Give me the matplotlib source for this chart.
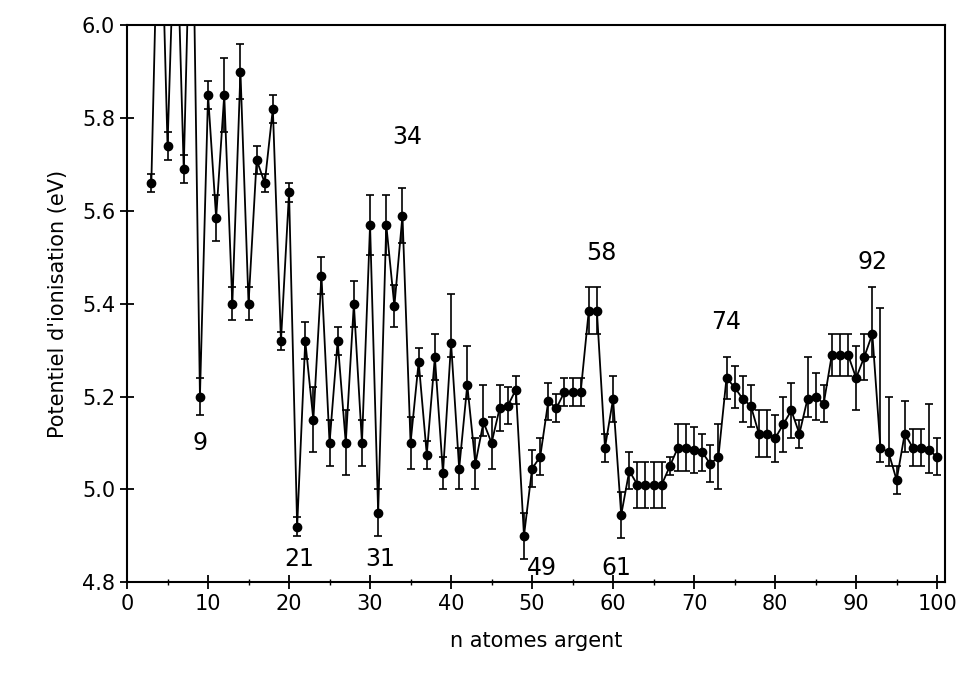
import numpy as np
import matplotlib
matplotlib.use("Agg")
from matplotlib import pyplot as plt
from matplotlib.ticker import MultipleLocator

# cluster size n (silver atoms)
n_atoms = list(range(3, 101))

# ionisation potential (eV); 4, 6, 8 lie above the frame
ip_values = [
    5.66, 6.40, 5.74, 6.30, 5.69, 6.40, 5.20, 5.85, 5.585, 5.85,   # 3-12
    5.40, 5.90, 5.40, 5.71, 5.66, 5.82, 5.32, 5.64, 4.92, 5.32,    # 13-22
    5.15, 5.46, 5.10, 5.32, 5.10, 5.40, 5.10, 5.57, 4.95, 5.57,    # 23-32
    5.395, 5.59, 5.10, 5.275, 5.075, 5.285, 5.035, 5.315, 5.045, 5.225,  # 33-42
    5.055, 5.145, 5.10, 5.175, 5.18, 5.215, 4.90, 5.045, 5.07, 5.19,     # 43-52
    5.175, 5.21, 5.21, 5.21, 5.385, 5.385, 5.09, 5.195, 4.945, 5.04,     # 53-62
    5.01, 5.01, 5.01, 5.01, 5.05, 5.09, 5.09, 5.085, 5.08, 5.055,        # 63-72
    5.07, 5.24, 5.22, 5.195, 5.18, 5.12, 5.12, 5.11, 5.14, 5.17,         # 73-82
    5.12, 5.195, 5.20, 5.185, 5.29, 5.29, 5.29, 5.24, 5.285, 5.335,      # 83-92
    5.09, 5.08, 5.02, 5.12, 5.09, 5.09, 5.085, 5.07,                     # 93-100
]

# error bar lengths below / above each point (eV)
err_low = [
    0.02, 0.0, 0.03, 0.0, 0.03, 0.0, 0.04, 0.03, 0.05, 0.08,
    0.035, 0.06, 0.035, 0.03, 0.02, 0.03, 0.02, 0.02, 0.02, 0.04,
    0.07, 0.04, 0.05, 0.03, 0.07, 0.05, 0.05, 0.065, 0.05, 0.065,
    0.045, 0.06, 0.055, 0.03, 0.03, 0.05, 0.035, 0.03, 0.045, 0.03,
    0.055, 0.03, 0.055, 0.05, 0.04, 0.03, 0.05, 0.04, 0.04, 0.04,
    0.03, 0.03, 0.03, 0.03, 0.05, 0.05, 0.03, 0.05, 0.05, 0.04,
    0.05, 0.05, 0.05, 0.05, 0.02, 0.05, 0.05, 0.05, 0.04, 0.04,
    0.07, 0.045, 0.045, 0.05, 0.045, 0.05, 0.05, 0.05, 0.06, 0.06,
    0.03, 0.04, 0.05, 0.04, 0.045, 0.045, 0.045, 0.07, 0.05, 0.05,
    0.03, 0.03, 0.03, 0.04, 0.04, 0.04, 0.05, 0.04,
]
err_high = [
    0.02, 0.0, 0.03, 0.0, 0.03, 0.0, 0.04, 0.03, 0.05, 0.08,
    0.035, 0.06, 0.035, 0.03, 0.02, 0.03, 0.02, 0.02, 0.02, 0.04,
    0.07, 0.04, 0.05, 0.03, 0.07, 0.05, 0.05, 0.065, 0.05, 0.065,
    0.045, 0.06, 0.055, 0.03, 0.03, 0.05, 0.035, 0.105, 0.045, 0.085,
    0.055, 0.08, 0.055, 0.05, 0.04, 0.03, 0.05, 0.04, 0.04, 0.04,
    0.03, 0.03, 0.03, 0.03, 0.05, 0.05, 0.03, 0.05, 0.05, 0.04,
    0.05, 0.05, 0.05, 0.05, 0.02, 0.05, 0.05, 0.05, 0.04, 0.04,
    0.07, 0.045, 0.045, 0.05, 0.045, 0.05, 0.05, 0.05, 0.06, 0.06,
    0.03, 0.09, 0.05, 0.04, 0.045, 0.045, 0.045, 0.07, 0.05, 0.10,
    0.30, 0.12, 0.03, 0.07, 0.04, 0.04, 0.10, 0.04,
]

# magic numbers written on the plot: (text, x, y)
labels = [("9", 9, 5.10), ("21", 21.3, 4.85), ("31", 31.3, 4.85),
          ("34", 34.6, 5.76), ("49", 51.2, 4.83), ("58", 58.6, 5.51),
          ("61", 60.4, 4.83), ("74", 74.0, 5.36), ("92", 92.0, 5.49)]

fig = plt.figure(figsize=(9.66, 6.81), dpi=100)
ax = fig.add_axes([0.1315, 0.145, 0.847, 0.818])

ax.errorbar(n_atoms, ip_values, yerr=[err_low, err_high], fmt="o-", color="black",
            ms=6, lw=1.3, elinewidth=1.2, capsize=3, capthick=1.2)

for txt, x, y in labels:
    ax.text(x, y, txt, fontsize=17, ha="center", va="center")

ax.set_xlim(0, 101)
ax.set_ylim(4.8, 6.0)
ax.xaxis.set_major_locator(MultipleLocator(10))
ax.xaxis.set_minor_locator(MultipleLocator(5))
ax.yaxis.set_major_locator(MultipleLocator(0.2))
ax.yaxis.set_major_formatter(matplotlib.ticker.FormatStrFormatter("%.1f"))
ax.tick_params(which="major", direction="inout", length=10, width=1.3, labelsize=15)
ax.tick_params(which="minor", direction="inout", length=5, width=1.0)
for s in ax.spines.values():
    s.set_linewidth(1.5)

ax.set_xlabel("n atomes argent", fontsize=15, labelpad=12)
ax.set_ylabel("Potentiel d'ionisation (eV)", fontsize=15, labelpad=10)

plt.savefig("out.png", dpi=100)
